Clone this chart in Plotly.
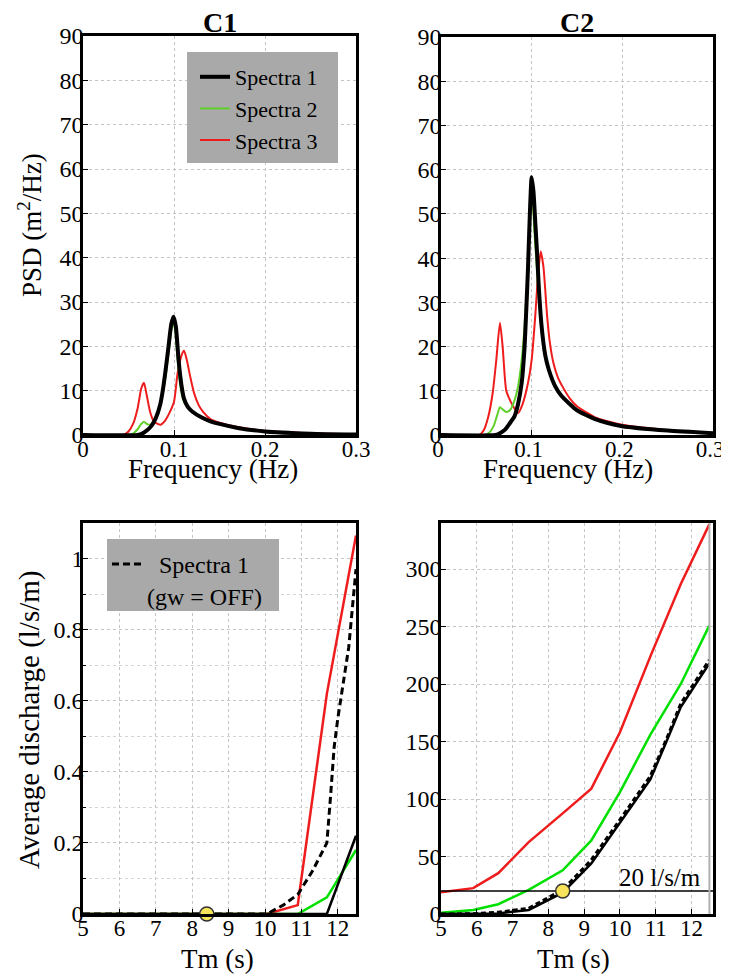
import plotly.graph_objects as go

# ---------------- data ----------------
# C1 spectra (frequency Hz, PSD m^2/Hz)
c1_s1_f = [0, 0.06, 0.065, 0.07, 0.075, 0.08, 0.085, 0.088, 0.091, 0.094, 0.097, 0.0995, 0.102, 0.105, 0.108, 0.111, 0.115, 0.12, 0.13, 0.14, 0.15, 0.17, 0.2, 0.25, 0.3]
c1_s1_p = [0, 0, 0.3, 1.0, 2.0, 3.8, 7.0, 10.5, 15, 20, 25, 26.7, 24.5, 17, 11.5, 8.2, 6.4, 5.3, 4.0, 3.1, 2.5, 1.6, 0.8, 0.3, 0.1]
c1_s2_f = [0, 0.05, 0.055, 0.06, 0.064, 0.067, 0.07, 0.074, 0.078, 0.083, 0.087, 0.091, 0.094, 0.097, 0.099, 0.101, 0.104, 0.107, 0.11, 0.115, 0.12, 0.13, 0.14, 0.15, 0.17, 0.2, 0.25, 0.3]
c1_s2_p = [0, 0, 0.3, 1.3, 2.5, 3.0, 2.5, 2.3, 3.0, 5.2, 8.5, 13.5, 18.5, 23.5, 25.5, 24, 17, 11.2, 8.0, 6.2, 5.2, 3.9, 3.0, 2.4, 1.5, 0.75, 0.28, 0.09]
c1_s3_f = [0, 0.044, 0.05, 0.055, 0.06, 0.064, 0.067, 0.07, 0.074, 0.078, 0.082, 0.085, 0.09, 0.095, 0.1, 0.104, 0.108, 0.111, 0.114, 0.118, 0.122, 0.127, 0.132, 0.14, 0.15, 0.17, 0.2, 0.25, 0.3]
c1_s3_p = [0, 0, 0.8, 2.5, 6.0, 10.5, 11.8, 9.0, 5.0, 3.0, 2.5, 2.3, 3.2, 5.0, 7.5, 14, 17.8, 19, 17, 13, 9.5, 6.8, 5.2, 3.6, 2.8, 1.8, 0.95, 0.38, 0.12]

# C2 spectra
c2_s1_f = [0, 0.06, 0.064, 0.07, 0.075, 0.081, 0.085, 0.089, 0.092, 0.094, 0.096, 0.098, 0.1, 0.102, 0.104, 0.106, 0.108, 0.111, 0.115, 0.119, 0.126, 0.133, 0.141, 0.15, 0.17, 0.2, 0.25, 0.3]
c2_s1_p = [0, 0, 0.3, 1.1, 2.4, 4.2, 7.0, 11.8, 19.3, 28, 38, 50, 58.3, 55, 48, 41, 33, 24.5, 18, 14.7, 11, 8.8, 7.2, 5.6, 3.6, 2.0, 1.0, 0.4]
c2_s2_f = [0, 0.048, 0.053, 0.058, 0.062, 0.065, 0.068, 0.072, 0.076, 0.08, 0.085, 0.089, 0.092, 0.095, 0.097, 0.099, 0.101, 0.103, 0.106, 0.109, 0.112, 0.116, 0.12, 0.126, 0.133, 0.141, 0.15, 0.17, 0.2, 0.25, 0.3]
c2_s2_p = [0, 0, 0.5, 2.0, 4.5, 6.3, 5.8, 5.2, 5.6, 7.2, 11, 17, 24, 35, 45, 54, 53, 46, 37, 28, 21.5, 16.5, 13.8, 10.8, 8.6, 7.0, 5.4, 3.5, 1.9, 0.95, 0.38]
c2_s3_f = [0, 0.042, 0.047, 0.052, 0.057, 0.061, 0.065, 0.068, 0.072, 0.077, 0.081, 0.085, 0.09, 0.096, 0.1, 0.104, 0.107, 0.11, 0.113, 0.117, 0.12, 0.124, 0.129, 0.135, 0.142, 0.15, 0.17, 0.2, 0.25, 0.3]
c2_s3_p = [0, 0, 1.0, 4.0, 9.5, 17, 25.4, 20, 10, 7.5, 6.0, 5.0, 7.0, 11.8, 17, 27, 36, 41.5, 38, 27, 21, 16.3, 13, 10.6, 8.3, 6.5, 4.0, 2.3, 1.1, 0.45]

# C1 average discharge vs Tm
c1_tm = [5, 5.85, 6.65, 7.5, 8.35, 9.2, 10.05, 10.9, 11.7, 12.5]
c1_q3 = [0, 0, 0, 0, 0, 0, 0, 0.025, 0.62, 1.065]
c1_q2 = [0, 0, 0, 0, 0, 0, 0, 0, 0.047, 0.18]
c1_q1 = [0, 0, 0, 0, 0, 0, 0, 0, 0, 0.22]
c1_off_tm = [5, 10.05, 10.5, 10.9, 11.3, 11.7, 11.8, 11.9, 12.0, 12.1, 12.3, 12.5]
c1_off_q = [0, 0, 0.025, 0.055, 0.12, 0.2, 0.33, 0.47, 0.55, 0.62, 0.75, 0.97]

# C2 average discharge vs Tm
c2_tm = [5, 5.9, 6.6, 7.45, 8.4, 9.2, 10.0, 10.85, 11.7, 12.5]
c2_q3 = [19, 22.5, 35.5, 62.5, 87.5, 109, 158, 224, 287, 339]
c2_q2 = [1, 3.5, 8.5, 21, 38, 64, 106, 156, 200, 251]
c2_tm1 = [5, 5.9, 6.6, 7.45, 8.4, 9.2, 10.0, 10.85, 11.3, 11.7, 12.5]
c2_q1 = [0, 0, 0.5, 3.5, 18.5, 44, 79, 117, 150, 180, 218]
c2_off_q = [0, 0.2, 1.5, 5, 21, 47, 82, 120, 152, 183, 221]

threshold = 20
marker_tm = 8.4

legend_names = ["Spectra 1", "Spectra 2", "Spectra 3"]
legend2_name = "\u00a0\u00a0Spectra 1<br>(gw = OFF)"

# ---------------- figure ----------------
FONT = "Liberation Serif, Times New Roman, DejaVu Serif, serif"
BLACK, GREEN_TOP, GREEN, RED = "#000000", "#5fcf2a", "#00e000", "#ee1c1c"
BOXGRAY = "#a9a9a9"

fig = go.Figure()

def add(x, y, xa, ya, color, width, name=None, legend=None, dash="solid", shape="linear", group=None):
    fig.add_trace(go.Scatter(
        x=x, y=y, xaxis=xa, yaxis=ya, mode="lines",
        line=dict(color=color, width=width, dash=dash, shape=shape, smoothing=0.6),
        name=name, showlegend=legend is not None, legend=legend or "legend",
        legendgroup=group, hoverinfo="skip"))

# top-left C1 spectra
add(c1_s3_f, c1_s3_p, "x", "y", RED, 2, legend_names[2], "legend", shape="spline", group="g3")
add(c1_s2_f, c1_s2_p, "x", "y", GREEN_TOP, 2, legend_names[1], "legend", shape="spline", group="g2")
add(c1_s1_f, c1_s1_p, "x", "y", BLACK, 4, legend_names[0], "legend", shape="spline", group="g1")
# top-right C2 spectra
add(c2_s3_f, c2_s3_p, "x2", "y2", RED, 2, shape="spline")
add(c2_s2_f, c2_s2_p, "x2", "y2", GREEN_TOP, 2, shape="spline")
add(c2_s1_f, c2_s1_p, "x2", "y2", BLACK, 4, shape="spline")
# bottom-left C1 discharge
add(c1_tm, c1_q3, "x3", "y3", RED, 2.5)
add(c1_tm, c1_q2, "x3", "y3", GREEN, 2.5)
add(c1_tm, c1_q1, "x3", "y3", BLACK, 2.5)
add(c1_off_tm, c1_off_q, "x3", "y3", BLACK, 3, legend2_name, "legend2", dash="7px,4px")
# bottom-right C2 discharge
add(c2_tm, c2_q3, "x4", "y4", RED, 2.5)
add(c2_tm, c2_q2, "x4", "y4", GREEN, 2.5)
add(c2_tm1, c2_off_q, "x4", "y4", BLACK, 3, dash="5px,3px")
add(c2_tm1, c2_q1, "x4", "y4", BLACK, 2.5)

# threshold line
fig.add_trace(go.Scatter(x=[5, 12.6], y=[threshold, threshold], xaxis="x4", yaxis="y4",
                         mode="lines", line=dict(color="black", width=1.3),
                         showlegend=False, hoverinfo="skip"))
# yellow markers
for xa, ya, yv in [("x3", "y3", 0), ("x4", "y4", threshold)]:
    fig.add_trace(go.Scatter(x=[marker_tm], y=[yv], xaxis=xa, yaxis=ya, mode="markers",
                             marker=dict(size=14, color="#f7e35a", line=dict(color="#333333", width=1.5)),
                             cliponaxis=False, showlegend=False, hoverinfo="skip"))

# page body has an 8px margin: build the figure in screen pixels minus that offset
OFF = 8
W, H = 729 - OFF + 6, 976 - OFF
def px_x(a, b):
    return [(a - OFF) / W, (b - OFF) / W]
def px_y(top, bottom):
    return [1 - (bottom - OFF) / H, 1 - (top - OFF) / H]
def sx(a):
    return (a - OFF) / W
def sy(b):
    return 1 - (b - OFF) / H

axis_common = dict(showline=True, linewidth=2.5, linecolor="black", mirror=True,
                   ticks="inside", ticklen=5, tickwidth=1, tickcolor="black",
                   showgrid=True, gridcolor="#c4c4c4", griddash="dot", gridwidth=1,
                   zeroline=False, automargin=False)
xcommon = dict(axis_common, ticklabelstandoff=-8, tickfont=dict(family=FONT, size=23, color="black"))
ycommon = dict(axis_common, ticklabelstandoff=-8, tickfont=dict(family=FONT, size=24, color="black"))

def label(text, x, y, size=27, angle=0, bold=False):
    return dict(text=f"<b>{text}</b>" if bold else text, x=sx(x), y=sy(y), xref="paper", yref="paper",
                xanchor="center", yanchor="middle", textangle=angle, showarrow=False,
                font=dict(family=FONT, size=size, color="black"))

fig.update_layout(
    width=W, height=H, margin=dict(l=0, r=0, t=0, b=0, autoexpand=False),
    paper_bgcolor="white", plot_bgcolor="white",
    font=dict(family=FONT, color="black"),
    xaxis=dict(xcommon, domain=px_x(83, 356), anchor="y", range=[0, 0.3], dtick=0.1),
    yaxis=dict(ycommon, domain=px_y(36, 435), anchor="x", range=[0, 90], dtick=10),
    xaxis2=dict(xcommon, domain=px_x(441, 713), anchor="y2", range=[0, 0.3], dtick=0.1,
                ticklabelshift=-3),
    yaxis2=dict(ycommon, domain=px_y(37, 435), anchor="x2", range=[0, 90], dtick=10),
    xaxis3=dict(xcommon, domain=px_x(83, 356), anchor="y3", range=[5, 12.5], dtick=1),
    yaxis3=dict(ycommon, domain=px_y(523, 914), anchor="x3", range=[0, 1.1], dtick=0.2,
                minor=dict(dtick=0.1, showgrid=True, gridcolor="#d4d4d4", griddash="dot", ticks="inside", ticklen=3)),
    xaxis4=dict(xcommon, domain=px_x(441, 713), anchor="y4", range=[5, 12.6], dtick=1),
    yaxis4=dict(ycommon, domain=px_y(523, 914), anchor="x4", range=[0, 340], dtick=50),
    legend=dict(x=sx(195), y=sy(56), xanchor="left", yanchor="top",
                bgcolor="rgba(0,0,0,0)", borderwidth=0, itemwidth=30, tracegroupgap=0,
                traceorder="reversed",
                font=dict(family=FONT, size=22, color="black")),
    legend2=dict(x=sx(107), y=sy(542), xanchor="left", yanchor="top",
                 bgcolor="rgba(0,0,0,0)", borderwidth=0, itemwidth=30, valign="top",
                 font=dict(family=FONT, size=24, color="black")),
    annotations=[
        label("C1", 219.5, 22, size=28, bold=True),
        label("C2", 577, 22, size=28, bold=True),
        label("Frequency (Hz)", 213, 469),
        label("Frequency (Hz)", 568, 469),
        label("Tm (s)", 217, 959),
        label("Tm (s)", 573, 959),
        label("PSD (m<sup>2</sup>/Hz)", 30, 225, angle=-90),
        label("Average discharge (l/s/m)", 29, 720, size=29, angle=-90),
        dict(text="20 l/s/m", x=12.33, y=threshold, xref="x4", yref="y4", xanchor="right",
             yanchor="bottom", yshift=-2, showarrow=False, font=dict(family=FONT, size=25, color="black")),
    ],
    shapes=[
        dict(type="line", xref="x4", yref="y4", x0=12.5, x1=12.5, y0=0, y1=340,
             line=dict(color="#b0b0b0", width=2)),
        dict(type="rect", xref="paper", yref="paper", x0=sx(187), x1=sx(338), y0=sy(163), y1=sy(52),
             fillcolor=BOXGRAY, line=dict(width=0), layer="above"),
        dict(type="rect", xref="paper", yref="paper", x0=sx(107), x1=sx(279), y0=sy(611), y1=sy(539),
             fillcolor=BOXGRAY, line=dict(width=0), layer="above"),
    ],
)

fig.write_html("out.html")
